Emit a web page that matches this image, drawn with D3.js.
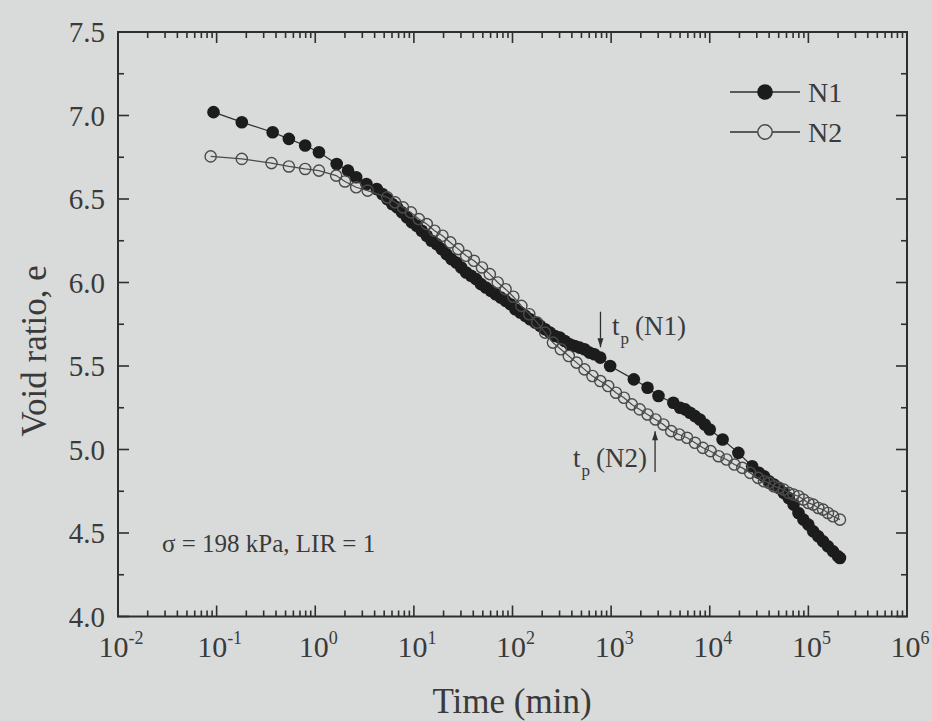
<!DOCTYPE html>
<html><head><meta charset="utf-8">
<script src="https://cdn.jsdelivr.net/npm/d3@7"></script>
<style>
html,body{margin:0;padding:0;background:#d9dbda;}
svg{display:block;}
text{font-family:"Liberation Serif","Times New Roman",serif;fill:#3a3a3a;}
</style></head><body>
<svg id="chart" width="932" height="721"></svg>
<script>
// ---- data ----
const n1Time = [0.093,0.18,0.37,0.54,0.79,1.09,1.65,2.15,2.6,3.3,4.2,
  4.79,5.37,6.03,6.76,7.59,8.51,9.55,10.7,12.0,13.5,15.1,17.0,19.1,21.4,24.0,26.9,30.2,33.9,38.0,42.7,47.9,53.7,60.3,67.6,75.9,85.1,95.5,
  107,120,135,151,170,191,214,240,269,302,339,380,427,479,537,603,676,
  776,977,1700,2340,3020,4270,5010,5620,6310,7080,7940,8910,10000,13500,19500,26900,
  31600,35500,39800,44700,50100,56200,63100,70800,79400,89100,100000,112000,126000,141000,158000,178000,200000,209000];
const n1Void = [7.02,6.96,6.90,6.86,6.82,6.78,6.71,6.67,6.63,6.59,6.56,
  6.53,6.50,6.47,6.45,6.42,6.39,6.36,6.34,6.31,6.28,6.25,6.23,6.20,6.17,6.14,6.12,6.09,6.06,6.04,6.02,5.99,5.97,5.95,5.93,5.91,5.89,5.87,
  5.84,5.82,5.80,5.78,5.76,5.74,5.72,5.70,5.68,5.67,5.65,5.63,5.62,5.61,5.60,5.58,5.57,
  5.55,5.50,5.42,5.37,5.32,5.28,5.25,5.24,5.22,5.20,5.18,5.15,5.12,5.06,4.98,4.90,
  4.86,4.84,4.81,4.79,4.77,4.74,4.71,4.67,4.62,4.58,4.55,4.51,4.48,4.45,4.42,4.39,4.36,4.35];
const n2Time = [0.087,0.18,0.36,0.54,0.79,1.09,1.63,2.0,2.6,3.4,
  5.37,6.46,7.76,9.33,11.2,13.5,16.2,19.5,23.4,28.2,33.9,40.7,49.0,58.9,70.8,85.1,102,123,148,178,214,257,309,372,447,537,646,776,933,
  1120,1350,1620,1950,2340,2820,3390,4070,4900,5890,7080,8510,10200,12300,14800,17800,21400,25700,30900,
  35500,39800,44700,50100,56200,63100,70800,79400,89100,100000,112000,126000,141000,158000,178000,209000];
const n2Void = [6.755,6.74,6.715,6.695,6.68,6.67,6.64,6.605,6.57,6.55,
  6.51,6.48,6.45,6.42,6.38,6.35,6.31,6.28,6.24,6.20,6.16,6.13,6.09,6.05,6.00,5.96,5.915,5.86,5.81,5.76,5.70,5.64,5.60,5.56,5.52,5.48,5.44,5.41,5.38,
  5.34,5.31,5.27,5.24,5.21,5.18,5.15,5.11,5.09,5.07,5.04,5.01,4.99,4.96,4.94,4.91,4.89,4.86,4.83,
  4.81,4.80,4.78,4.77,4.76,4.74,4.73,4.72,4.70,4.68,4.67,4.65,4.64,4.62,4.60,4.58];
const seriesNames = ["N1","N2"];
const xTickExponents = ["-2","-1","0","1","2","3","4","5","6"];
const yTickLabels = ["4.0","4.5","5.0","5.5","6.0","6.5","7.0","7.5"];
const tpN1 = 780, tpN2 = 2790;

// ---- layout ----
const L = 118, R = 907, T = 32, B = 616.5;
const svg = d3.select("#chart");
svg.append("rect").attr("width",932).attr("height",721).attr("fill","#d9dbda");

const x = d3.scaleLog().domain([1e-2,1e6]).range([L,R]);
const y = d3.scaleLinear().domain([4,7.5]).range([B,T]);
const ink = "#2e2e2e";

// ticks
const majorX = xTickExponents.map(e => Math.pow(10, +e));
const minorX = [];
for (let k=-2;k<6;k++) for (let m=2;m<10;m++) minorX.push(m*Math.pow(10,k));
const majorY = yTickLabels.map(Number);
const minorY = [4.25,4.75,5.25,5.75,6.25,6.75,7.25];

const g = svg.append("g").attr("stroke",ink).attr("stroke-width",1.6);
majorX.forEach(v => {
  g.append("line").attr("x1",x(v)).attr("x2",x(v)).attr("y1",B).attr("y2",B-11);
  g.append("line").attr("x1",x(v)).attr("x2",x(v)).attr("y1",T).attr("y2",T+11);
});
minorX.forEach(v => {
  g.append("line").attr("x1",x(v)).attr("x2",x(v)).attr("y1",B).attr("y2",B-6);
  g.append("line").attr("x1",x(v)).attr("x2",x(v)).attr("y1",T).attr("y2",T+6);
});
majorY.forEach(v => {
  g.append("line").attr("x1",L).attr("x2",L+11).attr("y1",y(v)).attr("y2",y(v));
  g.append("line").attr("x1",R).attr("x2",R-11).attr("y1",y(v)).attr("y2",y(v));
});
minorY.forEach(v => {
  g.append("line").attr("x1",L).attr("x2",L+6).attr("y1",y(v)).attr("y2",y(v));
  g.append("line").attr("x1",R).attr("x2",R-6).attr("y1",y(v)).attr("y2",y(v));
});
svg.append("rect").attr("x",L).attr("y",T).attr("width",R-L).attr("height",B-T)
  .attr("fill","none").attr("stroke",ink).attr("stroke-width",2);

// tick labels
xTickExponents.forEach(e => {
  const t = svg.append("text").attr("x",x(Math.pow(10,+e))+3).attr("y",657)
    .attr("text-anchor","middle").attr("font-size",30);
  t.append("tspan").text("10");
  t.append("tspan").attr("dy",-13).attr("font-size",18).text(e);
});
yTickLabels.forEach(s => {
  svg.append("text").attr("x",105).attr("y",y(+s)+10).attr("text-anchor","end")
    .attr("font-size",29).text(s);
});

// titles
svg.append("text").attr("x",512).attr("y",713).attr("text-anchor","middle")
  .attr("font-size",35).text("Time (min)");
svg.append("text").attr("transform","translate(46,351) rotate(-90)").attr("text-anchor","middle")
  .attr("font-size",35).text("Void ratio, e");

// series
const d1 = n1Time.map((t,i)=>({t, e:n1Void[i]}));
const d2 = n2Time.map((t,i)=>({t, e:n2Void[i]}));
const line = d3.line().x(d=>x(d.t)).y(d=>y(d.e));
svg.append("path").datum(d1).attr("d",line).attr("fill","none").attr("stroke",ink).attr("stroke-width",1.2);
svg.append("g").selectAll("circle").data(d1).join("circle")
  .attr("cx",d=>x(d.t)).attr("cy",d=>y(d.e)).attr("r",6.3).attr("fill","#1c1c1c");
svg.append("path").datum(d2).attr("d",line).attr("fill","none").attr("stroke","#4a4a4a").attr("stroke-width",1.2);
svg.append("g").selectAll("circle").data(d2).join("circle")
  .attr("cx",d=>x(d.t)).attr("cy",d=>y(d.e)).attr("r",5.6).attr("fill","none")
  .attr("stroke","#4a4a4a").attr("stroke-width",1.4);

// legend
[[92,true],[132,false]].forEach(([ly,filled],i)=>{
  svg.append("line").attr("x1",730).attr("x2",800).attr("y1",ly).attr("y2",ly)
    .attr("stroke",ink).attr("stroke-width",1.3);
  const c = svg.append("circle").attr("cx",765).attr("cy",ly).attr("r",filled?7.8:7.2);
  if (filled) c.attr("fill","#1c1c1c");
  else c.attr("fill","#d9dbda").attr("stroke","#4a4a4a").attr("stroke-width",1.5);
  svg.append("text").attr("x",808).attr("y",ly+10).attr("font-size",28).text(seriesNames[i]);
});

// annotations
function arrow(xp, y0, y1){
  svg.append("line").attr("x1",xp).attr("x2",xp).attr("y1",y0).attr("y2",y1)
    .attr("stroke",ink).attr("stroke-width",1.3);
  const dir = y1>y0?1:-1;
  svg.append("path").attr("d",`M${xp-3},${y1-dir*9}L${xp+3},${y1-dir*9}L${xp},${y1}Z`).attr("fill",ink);
}
arrow(x(tpN1), y(5.825), y(5.612));
arrow(x(tpN2), y(4.865), y(5.11));
function tpLabel(x0, yb, name){
  const t = svg.append("text").attr("x",x0).attr("y",yb).attr("font-size",27);
  t.append("tspan").text("t");
  t.append("tspan").attr("dy",9).attr("dx",1).attr("font-size",17).text("p");
  t.append("tspan").attr("dy",-9).attr("dx",6).text("(" + name + ")");
}
tpLabel(612, 335, "N1");
tpLabel(573, 467, "N2");

svg.append("text").attr("x",162).attr("y",552).attr("font-size",25).text("σ = 198 kPa, LIR = 1");
</script>
</body></html>
